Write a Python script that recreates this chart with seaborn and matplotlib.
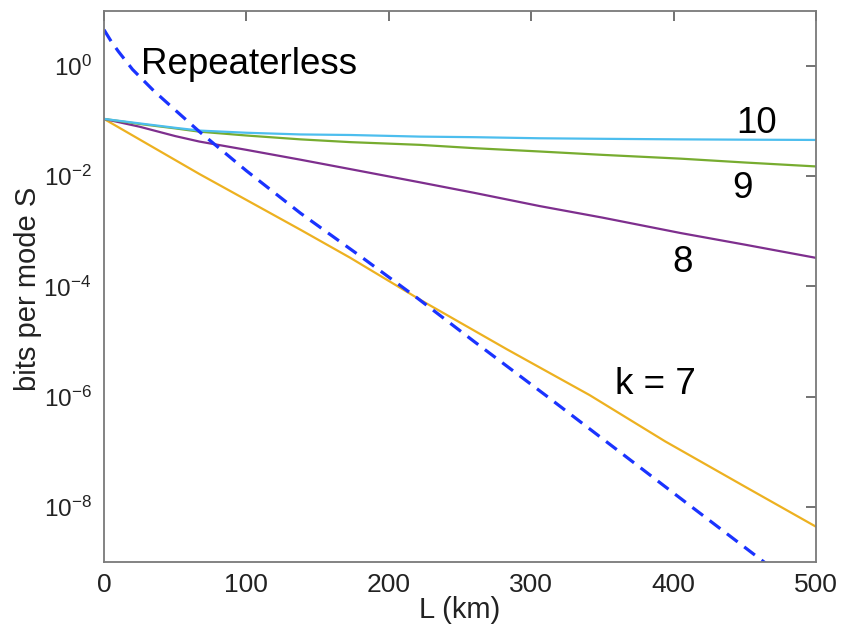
import numpy as np
import pandas as pd
import matplotlib
matplotlib.use("Agg")
import matplotlib.pyplot as plt
import seaborn as sns
from matplotlib.ticker import FixedLocator, FixedFormatter, NullLocator

# ---- data ----
L_k = [0, 25, 50, 67, 100, 138, 173, 222, 260, 306, 350, 405, 450, 500]
S_k10 = [0.110, 0.0912, 0.0759, 0.0676, 0.0617, 0.0575, 0.0562, 0.0525, 0.0513,
         0.0490, 0.0479, 0.0468, 0.0462, 0.0457]
S_k9 = [0.110, 0.0891, 0.0741, 0.0646, 0.0550, 0.0468, 0.0417, 0.0372, 0.0324,
        0.0282, 0.0245, 0.0209, 0.0178, 0.0151]
S_k8 = [0.110, 0.0794, 0.0537, 0.0427, 0.0302, 0.0200, 0.0135, 0.00776, 0.00501,
        0.00288, 0.00178, 0.000933, 0.000575, 0.000331]
L_k7 = [0, 67, 138, 173, 222, 283, 306, 341, 394, 450, 500]
S_k7 = [0.110, 0.0110, 1.07e-3, 3.31e-4, 5.75e-5, 7.24e-6, 3.39e-6, 1.07e-6,
        1.55e-7, 2.34e-8, 4.37e-9]
L_rep = [0, 5, 10, 20, 35, 51, 67, 100, 138, 180, 220, 260, 311, 360, 400, 461, 500]
S_rep = [4.57, 2.82, 1.86, 0.871, 0.355, 0.151, 0.0646, 0.0126, 2.14e-3, 3.55e-4,
         6.17e-5, 1.0e-5, 1.02e-6, 1.10e-7, 1.78e-8, 1.12e-9, 1.91e-10]

x_ticks = [0, 100, 200, 300, 400, 500]
y_ticks = [1e-8, 1e-6, 1e-4, 1e-2, 1e0]
y_tick_labels = [r"$\mathregular{10^{-8}}$", r"$\mathregular{10^{-6}}$",
                 r"$\mathregular{10^{-4}}$", r"$\mathregular{10^{-2}}$",
                 r"$\mathregular{10^{0}}$"]

# ---- style ----
sns.set_theme(style="white")
plt.rcParams["font.family"] = ["Liberation Sans", "DejaVu Sans"]
plt.rcParams["mathtext.fontset"] = "custom"
plt.rcParams["mathtext.rm"] = "Liberation Sans"
plt.rcParams["mathtext.it"] = "Liberation Sans:italic"
plt.rcParams["mathtext.bf"] = "Liberation Sans:bold"
plt.rcParams["axes.unicode_minus"] = False

fig = plt.figure(figsize=(8.42, 6.26), dpi=100)
ax = fig.add_axes([104 / 842, 1 - 562 / 626, 712 / 842, 551 / 626])

c_rep = "#1a33ff"
c10 = "#4DBEEE"
c9 = "#77AC30"
c8 = "#7E2F8E"
c7 = "#EDB120"

df10 = pd.DataFrame({"L": L_k, "S": S_k10})
df9 = pd.DataFrame({"L": L_k, "S": S_k9})
df8 = pd.DataFrame({"L": L_k, "S": S_k8})
df7 = pd.DataFrame({"L": L_k7, "S": S_k7})
dfr = pd.DataFrame({"L": L_rep, "S": S_rep})

sns.lineplot(data=df7, x="L", y="S", ax=ax, color=c7, lw=1.6, estimator=None, sort=False)
sns.lineplot(data=df8, x="L", y="S", ax=ax, color=c8, lw=1.6, estimator=None, sort=False)
sns.lineplot(data=df9, x="L", y="S", ax=ax, color=c9, lw=1.6, estimator=None, sort=False)
sns.lineplot(data=df10, x="L", y="S", ax=ax, color=c10, lw=1.6, estimator=None, sort=False)
line_rep = sns.lineplot(data=dfr, x="L", y="S", ax=ax, color=c_rep, lw=2.3,
                        estimator=None, sort=False).lines[-1]
line_rep.set_dashes([4.2, 2.6])

ax.set_yscale("log")
ax.set_xlim(0, 500)
ax.set_ylim(1e-9, 1e1)

ax.xaxis.set_major_locator(FixedLocator(x_ticks))
ax.yaxis.set_major_locator(FixedLocator(y_ticks))
ax.yaxis.set_major_formatter(FixedFormatter(y_tick_labels))
ax.yaxis.set_minor_locator(NullLocator())
ax.xaxis.set_minor_locator(NullLocator())

for s in ax.spines.values():
    s.set_color("#7a7a7a")
    s.set_linewidth(1.3)
    s.set_visible(True)

ax.tick_params(axis="both", which="major", direction="in", length=7, width=1.2,
               color="#5a5a5a", top=True, right=True, labelcolor="#222222")
ax.tick_params(axis="x", pad=8, labelsize=19)
ax.tick_params(axis="y", pad=9, labelsize=17.5)

ax.set_xlabel("L (km)", fontsize=21, color="#222222")
ax.set_ylabel("bits per mode S", fontsize=21, color="#222222")
ax.yaxis.set_label_coords(-0.0875, 0.4955)
ax.xaxis.set_label_coords(0.5, -0.062)

txt_kw = dict(fontsize=26.5, color="black", va="baseline", ha="left")
ax.text(26, 0.716, "Repeaterless", **txt_kw)
ax.text(444, 10 ** -1.214, "10", **txt_kw)
ax.text(441, 10 ** -2.39, "9", **txt_kw)
ax.text(399, 10 ** -3.73, "8", **txt_kw)
ax.text(359, 10 ** -5.96, "k = 7", **txt_kw)

ax.grid(False)
fig.savefig("out.png", dpi=100)
